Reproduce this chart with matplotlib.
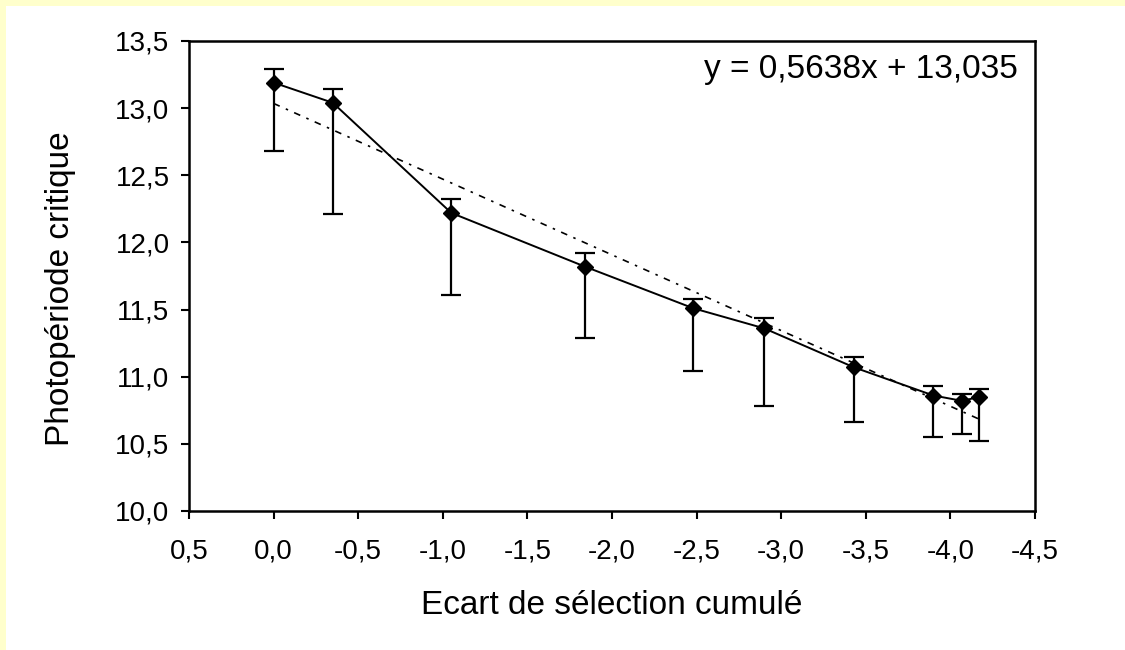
import matplotlib as mpl

mpl.use('agg')

import matplotlib.pyplot as plt
from matplotlib.patches import Rectangle

plt.rcParams['font.family'] = ['Liberation Sans', 'DejaVu Sans']

ecart = [0.0, -0.35, -1.05, -1.84, -2.48, -2.90, -3.43, -3.90, -4.07, -4.17]
photo = [13.19, 13.04, 12.22, 11.82, 11.51, 11.36, 11.07, 10.86, 10.82, 10.85]
err_top = [13.29, 13.14, 12.32, 11.92, 11.58, 11.44, 11.15, 10.93, 10.87, 10.91]
err_bot = [12.68, 12.21, 11.61, 11.29, 11.04, 10.78, 10.66, 10.55, 10.57, 10.52]

slope = 0.5638
intercept = 13.035

xticks = [0.5, 0.0, -0.5, -1.0, -1.5, -2.0, -2.5, -3.0, -3.5, -4.0, -4.5]
yticks = [10.0, 10.5, 11.0, 11.5, 12.0, 12.5, 13.0, 13.5]

fig = plt.figure(figsize=(11.25, 6.5), dpi=100)
fig.patches.append(Rectangle((0, 1 - 6 / 650), 1, 6 / 650, transform=fig.transFigure,
                             facecolor='#FFFFCC', edgecolor='none', zorder=0))
fig.patches.append(Rectangle((0, 0), 6 / 1125, 1, transform=fig.transFigure,
                             facecolor='#FFFFCC', edgecolor='none', zorder=0))

ax = fig.add_axes([189 / 1125, 1 - 511 / 650, (1035 - 189) / 1125, (511 - 41) / 650])

lower = [p - b for p, b in zip(photo, err_bot)]
upper = [t - p for p, t in zip(photo, err_top)]
ax.errorbar(ecart, photo, yerr=[lower, upper], fmt='none', ecolor='black',
            elinewidth=1.6, capsize=7, capthick=1.6, zorder=2)
ax.plot(ecart, photo, color='black', linewidth=1.4, marker='D', markersize=8, zorder=3)

tx = [ecart[0], ecart[-1]]
ty = [slope * v + intercept for v in tx]
ax.plot(tx, ty, color='black', linewidth=1.2, linestyle=(0, (4, 4, 1.5, 4)), zorder=1)

ax.set_xlim(0.5, -4.5)
ax.set_ylim(10.0, 13.5)
ax.set_xticks(xticks)
ax.set_xticklabels([f"{v:.1f}".replace('.', ',') for v in xticks])
ax.set_yticks(yticks)
ax.set_yticklabels([f"{v:.1f}".replace('.', ',') for v in yticks])
ax.tick_params(direction='out', length=6, width=1.5, labelsize=20)
ax.tick_params(axis='x', pad=14)
ax.tick_params(axis='y', pad=8)

for s in ax.spines.values():
    s.set_linewidth(1.8)

ax.set_xlabel("Ecart de sélection cumulé", fontsize=24, labelpad=18)
ax.set_ylabel("Photopériode critique", fontsize=24, labelpad=28)
ax.yaxis.label.set_y(0.472)

ax.text(0.98, 0.94, "y = 0,5638x + 13,035", transform=ax.transAxes,
        ha='right', va='center', fontsize=24)

fig.savefig('out.png', dpi=100)
